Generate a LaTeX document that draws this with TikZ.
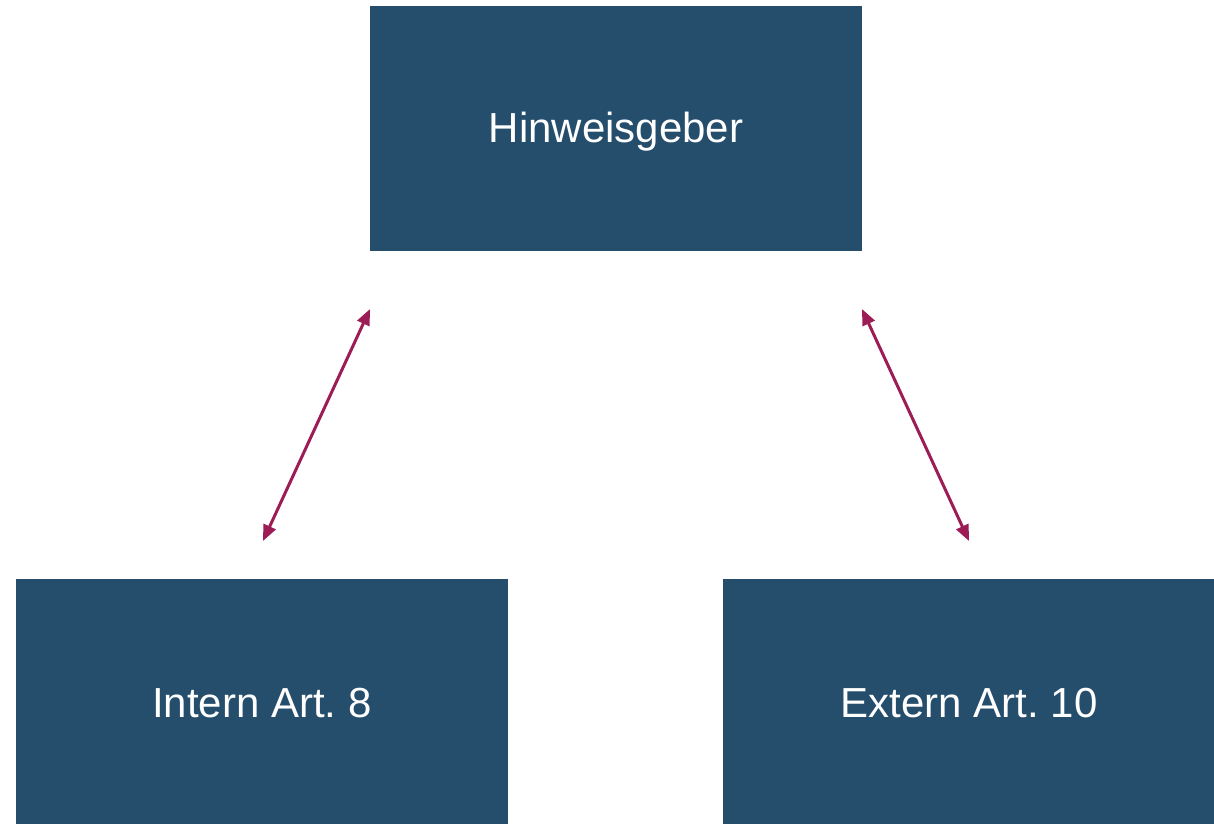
\documentclass[tikz,border=0pt]{standalone}
\usepackage{fontspec}
\setmainfont{Liberation Sans}
\usetikzlibrary{arrows.meta}
\definecolor{boxblue}{HTML}{254D6C}
\definecolor{arrowred}{HTML}{9C1C55}
\begin{document}
\begin{tikzpicture}[x=1pt,y=-1pt,
  box/.style={fill=boxblue,draw=none,minimum width=492pt,minimum height=245pt,inner sep=0pt,text=white,font=\fontsize{42}{50}\selectfont},
  link/.style={draw=arrowred,line width=3pt,{Triangle[length=16pt,width=13pt]}-{Triangle[length=16pt,width=13pt]}}]
\useasboundingbox (0,0) rectangle (1214,823);
\node[box] (top) at (616,128.5) {};
\node[box] (left) at (262,701.5) {};
\node[box] (right) at (969,701.5) {};
\node[text=white,font=\fontsize{42}{50}\selectfont] (tt) at ([yshift=-3pt]top.center) {Hinweisgeber};
\node[text=white,font=\fontsize{42}{50}\selectfont] (lt) at ([yshift=-2pt]left.center) {Intern Art.\ 8};
\node[text=white,font=\fontsize{42}{50}\selectfont] (rt) at ([yshift=-2pt]right.center) {Extern Art.\ 10};
\coordinate (a1) at (263,541);
\coordinate (a2) at (370,309);
\coordinate (b1) at (862,309);
\coordinate (b2) at (969,541);
\draw[link] (a1) -- (a2);
\draw[link] (b1) -- (b2);
\end{tikzpicture}
\end{document}
